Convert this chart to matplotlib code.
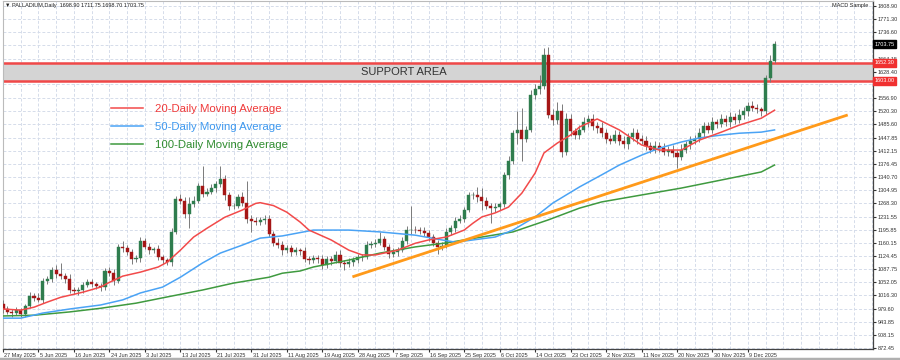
import matplotlib.pyplot as plt
from matplotlib.lines import Line2D
import numpy as np

plt.rcParams['font.family'] = ['Liberation Sans', 'DejaVu Sans']

# daily closes (open = previous close)
first_open = 992
closes = [
    978, 972, 968, 975, 966, 988, 1015, 1010, 1005, 1055,
    1060, 1085, 1075, 1068, 1062, 1032, 1028, 1030, 1045, 1052,
    1048, 1042, 1038, 1082, 1078, 1055, 1150, 1145, 1135, 1115,
    1118, 1165, 1150, 1140, 1143, 1120, 1112, 1108, 1190, 1280,
    1275, 1240, 1265, 1275, 1315, 1295, 1300, 1310, 1320, 1335,
    1290, 1260, 1262, 1285, 1270, 1225, 1220, 1218, 1222, 1225,
    1185, 1160, 1155, 1140, 1145, 1135, 1140, 1138, 1115, 1112,
    1118, 1115, 1100, 1115, 1110, 1128, 1105, 1102, 1108, 1112,
    1120, 1122, 1155, 1158, 1160, 1170, 1150, 1130, 1135, 1140,
    1165, 1195, 1196, 1195, 1193, 1188, 1175, 1160, 1150, 1152,
    1190, 1200, 1220, 1225, 1250, 1290, 1292, 1285, 1275, 1262,
    1255, 1258, 1265, 1345, 1385, 1460, 1470, 1445, 1470, 1565,
    1580, 1590, 1675, 1510, 1495, 1520, 1410, 1500, 1465, 1455,
    1470, 1490, 1500, 1480, 1475, 1460, 1445, 1440, 1455, 1440,
    1430, 1450, 1460, 1445, 1440, 1425, 1415, 1425, 1420, 1410,
    1415, 1405, 1395, 1415, 1430, 1440, 1445, 1460, 1480, 1470,
    1490, 1485, 1500, 1490, 1505, 1495, 1510, 1520, 1535, 1530,
    1525, 1520, 1610, 1658, 1703.75]
upper_wick = [
    12, 8, 6, 10, 8, 6, 10, 8, 12, 8,
    10, 8, 14, 30, 10, 12, 8, 10, 8, 10,
    8, 6, 8, 10, 12, 10, 8, 14, 10, 8,
    10, 12, 8, 10, 6, 10, 8, 6, 10, 8,
    15, 10, 20, 12, 10, 55, 10, 12, 8, 35,
    12, 10, 8, 10, 15, 60, 12, 10, 8, 10,
    10, 8, 12, 10, 8, 10, 8, 6, 10, 8,
    10, 8, 12, 10, 8, 10, 12, 8, 10, 8,
    10, 8, 10, 8, 10, 20, 10, 8, 12, 8,
    10, 12, 65, 10, 8, 10, 8, 10, 8, 10,
    10, 8, 12, 10, 8, 10, 8, 20, 25, 10,
    8, 10, 8, 10, 12, 10, 50, 60, 10, 12,
    15, 30, 18, 20, 15, 25, 20, 15, 12, 10,
    12, 15, 10, 12, 10, 15, 12, 10, 15, 10,
    12, 10, 15, 12, 10, 12, 10, 15, 10, 12,
    10, 12, 10, 15, 10, 12, 10, 15, 10, 12,
    15, 10, 12, 10, 12, 10, 15, 12, 10, 12,
    10, 8, 10, 15, 8]
lower_wick = [
    10, 8, 10, 6, 10, 8, 6, 10, 8, 10,
    8, 6, 10, 8, 12, 10, 8, 10, 8, 6,
    10, 8, 10, 6, 8, 10, 6, 10, 8, 12,
    8, 10, 6, 10, 8, 6, 10, 8, 10, 6,
    10, 12, 40, 8, 6, 10, 8, 6, 10, 8,
    12, 10, 8, 6, 10, 12, 30, 10, 8, 10,
    10, 8, 10, 12, 8, 10, 8, 10, 8, 10,
    8, 10, 12, 8, 10, 6, 10, 16, 8, 10,
    8, 10, 6, 10, 8, 6, 10, 12, 8, 10,
    6, 8, 10, 8, 10, 8, 10, 8, 20, 10,
    6, 8, 10, 6, 8, 6, 10, 12, 25, 10,
    40, 10, 8, 6, 10, 8, 30, 60, 10, 8,
    10, 12, 10, 8, 12, 10, 15, 10, 12, 10,
    10, 8, 12, 10, 15, 10, 12, 10, 8, 12,
    10, 12, 10, 15, 10, 12, 10, 8, 12, 10,
    12, 10, 30, 8, 10, 12, 10, 8, 12, 10,
    10, 12, 8, 10, 12, 10, 8, 10, 12, 10,
    10, 12, 8, 10, 6]

# moving averages as (bar, price) vertices
ma20_x = [0, 4, 7, 10, 13, 18, 22, 24, 27, 31, 35, 37, 40, 43, 46, 50, 54, 57, 58, 61,
          64, 67, 69, 74, 78, 81, 84, 89, 93, 96, 100, 104, 106, 108, 111, 114, 117, 120,
          122, 125, 128, 130, 134, 139, 144, 148, 153, 157, 162, 166, 171, 174]
ma20_y = [979, 976, 984, 998, 1011, 1025, 1039, 1052, 1069, 1080, 1094, 1107, 1140, 1176,
          1200, 1230, 1250, 1268, 1270, 1262, 1244, 1217, 1195, 1168, 1140, 1127, 1127,
          1140, 1159, 1168, 1176, 1195, 1214, 1231, 1242, 1258, 1296, 1351, 1406, 1433,
          1455, 1477, 1499, 1469, 1428, 1414, 1414, 1441, 1463, 1482, 1501, 1523]
ma50_x = [0, 4, 9, 15, 22, 27, 31, 36, 40, 45, 49, 54, 58, 63, 70, 78, 85, 93, 99, 102,
          106, 111, 115, 120, 124, 130, 135, 139, 144, 148, 153, 157, 162, 166, 171, 174]
ma50_y = [954, 954, 968, 979, 990, 1004, 1023, 1039, 1066, 1105, 1132, 1154, 1173, 1179,
          1195, 1195, 1190, 1181, 1168, 1162, 1168, 1176, 1195, 1231, 1269, 1313, 1346,
          1373, 1400, 1419, 1436, 1447, 1455, 1460, 1463, 1469]
ma100_x = [0, 7, 15, 22, 30, 37, 45, 52, 60, 63, 67, 70, 78, 85, 93, 100, 108, 115, 123,
           130, 135, 144, 153, 162, 171, 174]
ma100_y = [960, 962, 971, 981, 995, 1012, 1031, 1050, 1066, 1077, 1083, 1094, 1113, 1132,
           1149, 1160, 1176, 1190, 1223, 1255, 1272, 1291, 1310, 1332, 1354, 1373]

trend_x = [78.8, 190.5]
trend_y = [1067, 1510]

support_low, support_high = 1603.0, 1652.3
last_price = 1703.75

price_ticks = [872.45, 908.15, 943.85, 979.60, 1016.30, 1052.05, 1087.75, 1124.45,
               1160.15, 1195.85, 1231.55, 1268.30, 1304.95, 1340.70, 1376.45, 1412.15,
               1447.85, 1485.60, 1520.30, 1556.90, 1593.70, 1628.40, 1664.15, 1700.90,
               1736.60, 1771.30, 1808.90]
date_labels = ["27 May 2025", "5 Jun 2025", "16 Jun 2025", "24 Jun 2025", "3 Jul 2025",
               "13 Jul 2025", "21 Jul 2025", "31 Jul 2025", "11 Aug 2025", "19 Aug 2025",
               "28 Aug 2025", "7 Sep 2025", "16 Sep 2025", "25 Sep 2025", "6 Oct 2025",
               "14 Oct 2025", "23 Oct 2025", "2 Nov 2025", "11 Nov 2025", "20 Nov 2025",
               "30 Nov 2025", "9 Dec 2025"]
bars_per_label = 8

assert len(closes) == len(upper_wick) == len(lower_wick)

n = len(closes)
idx = np.arange(n)
c = np.array(closes, dtype=float)
o = np.concatenate([[first_open], c[:-1]])
hi = np.maximum(o, c) + np.array(upper_wick)
lo = np.minimum(o, c) - np.array(lower_wick)
up = c >= o

fig = plt.figure(figsize=(9, 3.6), dpi=100)
ax = fig.add_axes([3 / 900, 11 / 360, 870 / 900, 348 / 360])
ax.set_xlim(0.22, 196.2)
ax.set_ylim(869.6, 1821.8)

# grid
grid_col = '#d5dcea'
for p in price_ticks:
    ax.axhline(p, color=grid_col, lw=0.7, ls=(0, (3, 2)), zorder=0)
for k in range(0, 50):
    ax.axvline(k * 4, color=grid_col, lw=0.7, ls=(0, (3, 2)), zorder=0)

# support band
ax.axhspan(support_low, support_high, color='#d4d4d4', zorder=1)
ax.axhline(support_high, color='#f04848', lw=1.8, zorder=2)
ax.axhline(support_low, color='#f04848', lw=1.8, zorder=2)
ax.text(90.5, (support_low + support_high) / 2, 'SUPPORT AREA', ha='center', va='center',
        fontsize=8, color='#333333', zorder=3)

# candles
ax.vlines(idx, lo, hi, color='#7a7a7a', lw=0.7, zorder=3)
body_h = np.maximum(np.abs(c - o), 1.5)
ax.bar(idx[up], body_h[up], bottom=np.minimum(o, c)[up], width=0.7,
       color='#2f7d4e', edgecolor='#2f7d4e', lw=0.3, zorder=4)
ax.bar(idx[~up], body_h[~up], bottom=np.minimum(o, c)[~up], width=0.7,
       color='#a51616', edgecolor='#a51616', lw=0.3, zorder=4)

# moving averages and trendline
ax.plot(ma100_x, ma100_y, color='#3f9a3f', lw=1.1, zorder=5)
ax.plot(ma50_x, ma50_y, color='#4aa3f5', lw=1.1, zorder=5)
ax.plot(ma20_x, ma20_y, color='#f24a4a', lw=1.1, zorder=5)
ax.plot(trend_x, trend_y, color='#ff9a1a', lw=2, zorder=6, solid_capstyle='butt')

# right price axis (the label under the last-price box is hidden)
ax.yaxis.tick_right()
ax.set_yticks(price_ticks)
ax.set_yticklabels(['' if abs(p - last_price) < 10 else '%.2f' % p for p in price_ticks])
ax.tick_params(axis='y', labelsize=4, length=2, pad=1.5, colors='#333333')
ax.set_xticks([k * bars_per_label for k in range(len(date_labels))])
ax.set_xticklabels([])
ax.tick_params(axis='x', length=2, colors='#333333')
for k, lab in enumerate(date_labels):
    ax.text(k * bars_per_label + 0.3, -0.012, lab, transform=ax.get_xaxis_transform(),
            ha='left', va='top', fontsize=4, color='#333333')

for side in ['left', 'top']:
    ax.spines[side].set_color('#bbbbbb')
for side in ['right', 'bottom']:
    ax.spines[side].set_color('#444444')
    ax.spines[side].set_linewidth(0.9)

# price boxes on the axis
ytr = ax.get_yaxis_transform()
for val, face in [(support_high, '#f03030'), (support_low, '#f03030'), (last_price, '#000000')]:
    ax.text(1.002, val, '%.2f' % val, transform=ytr, ha='left', va='center', fontsize=4,
            color='white', zorder=10, clip_on=False,
            bbox=dict(boxstyle='square,pad=0.25', fc=face, ec=face))

# legend
legend = [('20-Daily Moving Average', '#f24a4a', '#f03a3a', 108),
          ('50-Daily Moving Average', '#4aa3f5', '#3d98ef', 126),
          ('100-Daily Moving Average', '#3f9a3f', '#2e8b2e', 144)]
for text, lc, tc, py in legend:
    fig.add_artist(Line2D([111 / 900, 143 / 900], [1 - py / 360] * 2, color=lc, lw=1.1,
                          transform=fig.transFigure))
    fig.text(155 / 900, 1 - (py + 1) / 360, text, color=tc, fontsize=8.2, va='center', ha='left')

# header texts
fig.text(5 / 900, 1 - 5 / 360, '\u25bc PALLADIUM,Daily  1698.90 1711.75 1698.70 1703.75',
         fontsize=4, va='center', ha='left', color='#222222')
fig.text(832 / 900, 1 - 5 / 360, 'MACD Sample', fontsize=4, va='center', ha='left',
         color='#222222')

# window border strip at the bottom
fig.add_artist(Line2D([0, 1], [1.5 / 360, 1.5 / 360], color='#b0b0b0', lw=2.5,
                      transform=fig.transFigure))

fig.savefig('out.png', dpi=100, facecolor='white')
